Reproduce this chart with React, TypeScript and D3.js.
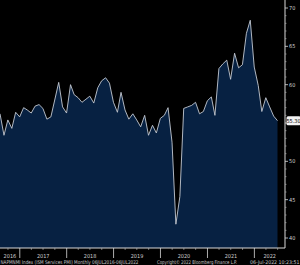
import React from "react";
import * as d3 from "d3";

const months: string[] = [];
for (let y = 2016, m = 6; months.length < 72; ) {
  months.push(`${y}-${String(m + 1).padStart(2, "0")}`);
  m++;
  if (m === 12) { m = 0; y++; }
}

const values: number[] = [
  56.2, 53.4, 55.4, 54.3, 56.4, 55.8,
  57.0, 56.7, 56.3, 57.2, 57.4, 56.9, 55.5, 55.8, 58.0, 60.3, 57.1, 56.3,
  60.0, 58.7, 58.3, 57.7, 58.1, 58.5, 57.6, 59.6, 60.5, 60.9, 60.2, 57.7,
  56.4, 59.0, 56.7, 55.5, 56.2, 55.4, 54.5, 56.0, 53.4, 54.7, 53.7, 55.6,
  56.0, 57.0, 52.5, 41.8, 45.4, 56.9, 57.1, 57.3, 57.7, 56.2, 56.5, 57.9,
  58.4, 56.0, 62.1, 62.7, 63.2, 60.7, 64.1, 62.2, 62.6, 66.7, 68.4, 62.3,
  59.9, 56.5, 58.3, 57.1, 55.9, 55.3,
];

const yTicks = [40, 45, 50, 55, 60, 65, 70];
const years = [2016, 2017, 2018, 2019, 2020, 2021, 2022];
const lastLabel = "55.30";
const footerLeft = "NAPMNMI Index (ISM Services PMI)  Monthly 06JUL2016-06JUL2022";
const footerMid = "Copyright\u00A9 2022 Bloomberg Finance L.P.";
const footerRight = "06-Jul-2022 10:23:51";

// month-end dates
const dates = months.map((s) => {
  const [y, m] = s.split("-").map(Number);
  return new Date(y, m, 0);
});

export default function App() {
  const W = 300, H = 265;
  const axisX = 285;
  const bottom = 248;
  const x = d3.scaleTime().domain([dates[0], dates[dates.length - 1]]).range([0, 277.5]);
  const y = d3.scaleLinear().domain([40, 70]).range([238, 8]);
  const data = dates.map((d, i) => ({ d, v: values[i] }));
  const area = d3.area<{ d: Date; v: number }>().x((p) => x(p.d)).y0(bottom).y1((p) => y(p.v));
  const line = d3.line<{ d: Date; v: number }>().x((p) => x(p.d)).y((p) => y(p.v));

  const quarters: Date[] = [];
  for (const yr of years) for (const m of [3, 6, 9]) quarters.push(new Date(yr, m, 1));
  const minorY: number[] = [];
  for (let v = 40; v <= 70; v += 1) if (v % 5 !== 0) minorY.push(v);

  const font = "'Liberation Sans Narrow', 'DejaVu Sans Condensed', 'Liberation Sans', sans-serif";
  const last = values[values.length - 1];
  const lastY = y(last);

  return (
    <svg width={W} height={H} style={{ position: "absolute", left: 0, top: 0, background: "#000" }} fontFamily={font}>
      <rect width={W} height={H} fill="#000" />
      <path d={area(data) || ""} fill="#072142" />
      <path d={line(data) || ""} fill="none" stroke="#c4cad3" strokeWidth={0.9} />
      {/* right axis */}
      <line x1={axisX} x2={axisX} y1={0} y2={bottom} stroke="#d8d8d8" strokeWidth={1} />
      {minorY.map((v) => (
        <line key={"m" + v} x1={axisX} x2={axisX + 1.5} y1={y(v)} y2={y(v)} stroke="#bbb" strokeWidth={0.6} />
      ))}
      {yTicks.map((v) => (
        <g key={v}>
          <line x1={axisX} x2={axisX + 3} y1={y(v)} y2={y(v)} stroke="#d8d8d8" strokeWidth={0.8} />
          {Math.abs(y(v) - lastY) > 8 && (
            <text x={axisX + 4} y={y(v) + 2} fontSize={5.5} fill="#d0d0d0">{v}</text>
          )}
        </g>
      ))}
      <rect x={axisX + 1.5} y={lastY - 4.5} width={14} height={9} rx={1.5} fill="#f2f2f2" />
      <text x={axisX + 8.5} y={lastY + 2} fontSize={5.5} fill="#000" textAnchor="middle">{lastLabel}</text>
      {/* bottom axis */}
      <line x1={0} x2={axisX} y1={bottom} y2={bottom} stroke="#d8d8d8" strokeWidth={1} />
      {quarters.filter((q) => x(q) > 0 && x(q) < axisX).map((q, i) => (
        <line key={"q" + i} x1={x(q)} x2={x(q)} y1={bottom} y2={bottom + 2} stroke="#bbb" strokeWidth={0.6} />
      ))}
      {years.map((yr) => {
        const s = x(new Date(yr, 0, 1));
        const e = x(new Date(yr + 1, 0, 1));
        const cs = Math.max(0, s), ce = Math.min(axisX, e);
        return (
          <g key={yr}>
            {s > 0 && <line x1={s} x2={s} y1={bottom} y2={258} stroke="#d8d8d8" strokeWidth={0.8} />}
            <text x={(cs + ce) / 2} y={257.5} fontSize={5.5} fill="#d0d0d0" textAnchor="middle">{yr}</text>
          </g>
        );
      })}
      <text x={0.5} y={263.5} fontSize={5.2} fill="#c8c8c8" textLength={138} lengthAdjust="spacingAndGlyphs">{footerLeft}</text>
      <text x={157} y={263.5} fontSize={5.2} fill="#c8c8c8" textLength={80} lengthAdjust="spacingAndGlyphs">{footerMid}</text>
      <text x={250} y={263.5} fontSize={5.2} fill="#c8c8c8" textLength={49.5} lengthAdjust="spacingAndGlyphs">{footerRight}</text>
    </svg>
  );
}
